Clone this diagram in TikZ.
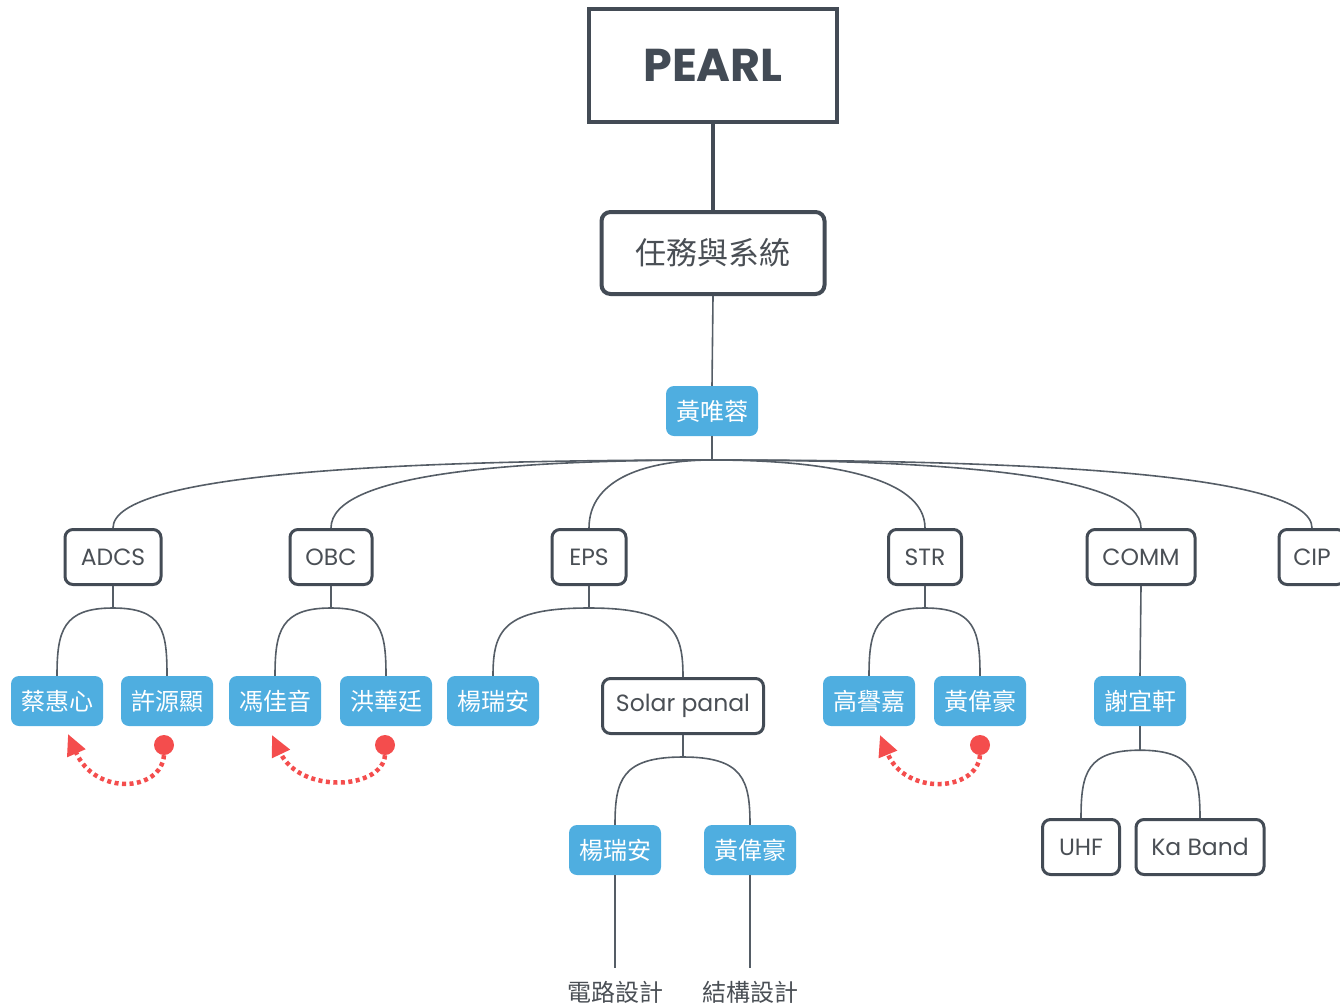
\documentclass[tikz,border=0pt]{standalone}
\usepackage{fontspec}
\setmainfont{Poppins}
\newfontfamily\cjk{Noto Sans CJK TC}
\usetikzlibrary{arrows.meta}
\definecolor{ink}{HTML}{434B55}
\definecolor{blu}{HTML}{4FAEE0}
\definecolor{rd}{HTML}{F44D4D}
\definecolor{lgray}{HTML}{555D66}
\definecolor{tgray}{HTML}{4A4F55}
\begin{document}
\begin{tikzpicture}[x=1pt,y=-1pt,
  conn/.style={draw=lgray, line width=1.6pt},
  thick conn/.style={draw=ink, line width=4pt},
  pearlbox/.style={draw=ink, line width=4pt, minimum width=248pt, minimum height=113pt,
    font=\fontsize{46}{52}\selectfont\bfseries, text=ink},
  mainbox/.style={draw=ink, line width=4pt, rounded corners=9pt, minimum width=223pt,
    minimum height=82pt, font=\cjk\fontsize{31}{36}\selectfont, text=tgray},
  subbox/.style={draw=ink, line width=3pt, rounded corners=8pt, minimum height=55pt,
    inner xsep=0pt, font=\fontsize{23.5}{27}\selectfont, text=tgray},
  person/.style={fill=blu, rounded corners=8pt, minimum width=92pt, minimum height=50pt,
    inner sep=0pt, font=\cjk\fontsize{24}{28}\selectfont, text=white},
  note/.style={font=\cjk\fontsize{24}{28}\selectfont, text=tgray},
  dotend/.style={circle, fill=rd, minimum size=20pt, inner sep=0pt},
  swap/.style={draw=rd, line width=4.5pt, dash pattern=on 4pt off 3.5pt,
    -{Triangle[length=21pt,width=19pt]}},
]
\useasboundingbox (0,0) rectangle (1340,1007);
\clip (0,0) rectangle (1340,1007);

% top
\node[pearlbox] (pearl) at (713,65) {PEARL};
\node[mainbox] (mis) at (713,253) {任務與系統};
\node[person] (hy) at (712,411) {黃唯蓉};
\draw[thick conn] (pearl.south) -- (mis.north);
\draw[conn] (mis.south) -- (hy.north);
\coordinate (hub) at (712,460);
\draw[conn] (hy.south) -- (hub);

% level 1
\node[subbox, minimum width=96pt] (adcs) at (113,557) {ADCS};
\node[subbox, minimum width=82pt] (obc) at (331,557) {OBC};
\node[subbox, minimum width=74pt] (eps) at (589,557) {EPS};
\node[subbox, minimum width=73pt] (str) at (925,557) {STR};
\node[subbox, minimum width=108pt] (comm) at (1141,557) {COMM};
\node[subbox, minimum width=66pt] (cip) at (1312,557) {CIP};

\draw[conn] (hub) .. controls +(-312,0) and +(0,-55) .. (adcs.north);
\draw[conn] (hub) .. controls +(-198,0) and +(0,-55) .. (obc.north);
\draw[conn] (hub) .. controls +(-64,0) and +(0,-50) .. (eps.north);
\draw[conn] (hub) .. controls +(111,0) and +(0,-52) .. (str.north);
\draw[conn] (hub) .. controls +(223,0) and +(0,-55) .. (comm.north);
\draw[conn] (hub) .. controls +(312,0) and +(0,-55) .. (cip.north);

% level 2
\node[person] (p1) at (57,701) {蔡惠心};
\node[person] (p2) at (167,701) {許源顯};
\node[person] (p3) at (275,701) {馮佳音};
\node[person] (p4) at (386,701) {洪華廷};
\node[person] (p5) at (493,701) {楊瑞安};
\node[subbox, minimum width=161pt] (solar) at (683,706) {Solar panal};
\node[person] (p6) at (869,701) {高譽嘉};
\node[person] (p7) at (980,701) {黃偉豪};
\node[person] (p8) at (1140,701) {謝宜軒};

\draw[conn] (adcs.south) -- ++(0,22) coordinate (ja);
\draw[conn] (ja) .. controls +(-50,0) and +(0,-45) .. (p1.north);
\draw[conn] (ja) .. controls +(50,0) and +(0,-45) .. (p2.north);
\draw[conn] (obc.south) -- ++(0,22) coordinate (jo);
\draw[conn] (jo) .. controls +(-50,0) and +(0,-45) .. (p3.north);
\draw[conn] (jo) .. controls +(50,0) and +(0,-45) .. (p4.north);
\draw[conn] (eps.south) -- ++(0,22) coordinate (je);
\draw[conn] (je) .. controls +(-86,0) and +(0,-45) .. (p5.north);
\draw[conn] (je) .. controls +(85,0) and +(0,-45) .. (solar.north);
\draw[conn] (str.south) -- ++(0,22) coordinate (js);
\draw[conn] (js) .. controls +(-50,0) and +(0,-45) .. (p6.north);
\draw[conn] (js) .. controls +(50,0) and +(0,-45) .. (p7.north);
\draw[conn] (comm.south) -- (p8.north);

% level 3
\node[person] (p9) at (615,850) {楊瑞安};
\node[person] (p10) at (750,850) {黃偉豪};
\node[subbox, minimum width=77pt] (uhf) at (1081,847) {UHF};
\node[subbox, minimum width=128pt] (ka) at (1200,847) {Ka Band};

\draw[conn] (solar.south) -- ++(0,22) coordinate (jp);
\draw[conn] (jp) .. controls +(-61,0) and +(0,-45) .. (p9.north);
\draw[conn] (jp) .. controls +(60,0) and +(0,-45) .. (p10.north);
\draw[conn] (p8.south) -- ++(0,24) coordinate (jc);
\draw[conn] (jc) .. controls +(-53,0) and +(0,-45) .. (uhf.north);
\draw[conn] (jc) .. controls +(53,0) and +(0,-45) .. (ka.north);

% level 4
\node[note] (n1) at (615,992) {電路設計};
\node[note] (n2) at (750,992) {結構設計};
\draw[conn] (p9.south) -- ++(0,93) coordinate (e1);
\draw[conn] (p10.south) -- ++(0,93) coordinate (e2);

% swap markers
\node[dotend] (d1) at (164,745) {};
\coordinate (t1) at (68,734);
\draw[swap] (d1.south) .. controls (161,792) and (95,796) .. (t1);
\node[dotend] (d2) at (385,745) {};
\coordinate (t2) at (272,735);
\draw[swap] (d2.south) .. controls (382,790) and (300,794) .. (t2);
\node[dotend] (d3) at (980,745) {};
\coordinate (t3) at (880,735);
\draw[swap] (d3.south) .. controls (977,792) and (905,796) .. (t3);
\end{tikzpicture}
\end{document}
